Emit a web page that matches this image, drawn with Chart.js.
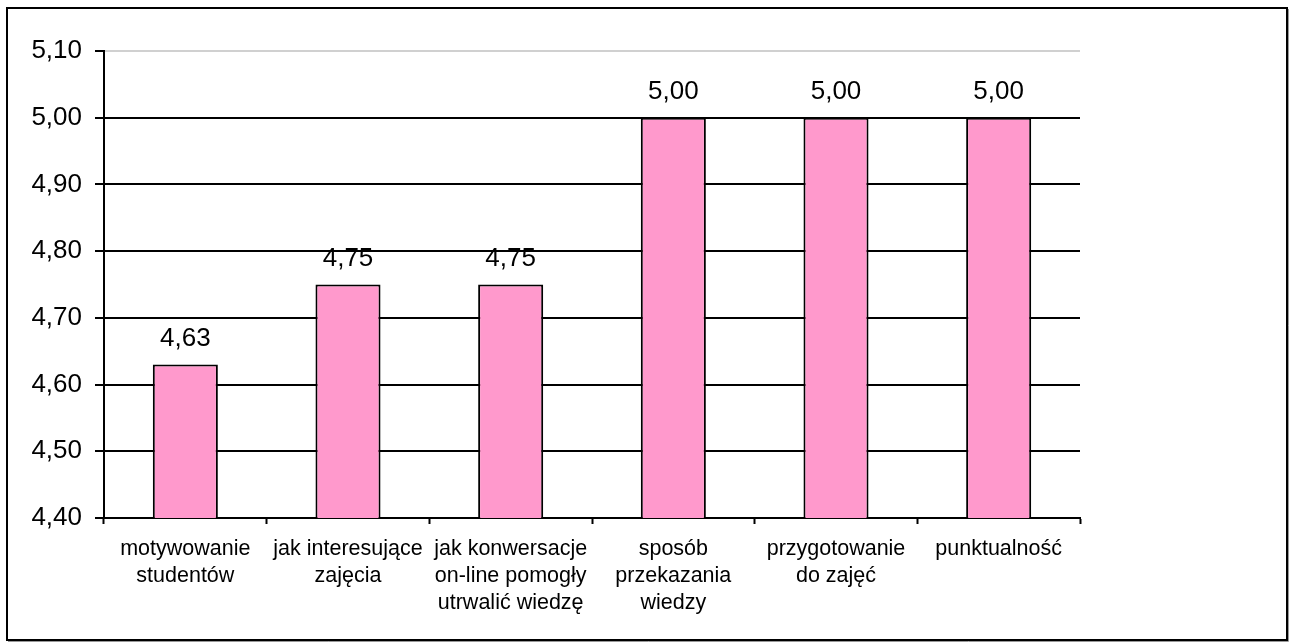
<!DOCTYPE html>
<html>
<head>
<meta charset="utf-8">
<script src="https://cdn.jsdelivr.net/npm/chart.js@4"></script>
<style>
  body { margin: 0; background: #fff; }
  #wrap { position: absolute; left: 0; top: 0; width: 1290px; height: 642px; }
</style>
</head>
<body>
<div id="wrap"><canvas id="ocenyChart" width="1290" height="642"></canvas></div>
<script>
// categories (multi-line labels as in the original sheet)
const categories = [
  ['motywowanie', 'studentów'],
  ['jak interesujące', 'zajęcia'],
  ['jak konwersacje', 'on-line pomogły', 'utrwalić wiedzę'],
  ['sposób', 'przekazania', 'wiedzy'],
  ['przygotowanie', 'do zajęć'],
  ['punktualność']
];
const scores = [4.63, 4.75, 4.75, 5.00, 5.00, 5.00];
const yMin = 4.4;
const yMax = 5.1;
const yStep = 0.1;

const fontFamily = '"Liberation Sans", Arial, Helvetica, sans-serif';
const fmt = v => v.toFixed(2).replace('.', ',');

// frame around the whole chart
const framePlugin = {
  id: 'frame',
  afterDraw(chart) {
    const ctx = chart.ctx;
    ctx.save();
    ctx.strokeStyle = '#999';
    ctx.lineWidth = 1;
    ctx.beginPath();
    ctx.moveTo(1288.5, 9);
    ctx.lineTo(1288.5, 641.5);
    ctx.lineTo(8, 641.5);
    ctx.stroke();
    ctx.strokeStyle = '#000';
    ctx.lineWidth = 2;
    ctx.strokeRect(7, 8, 1280, 632);
    ctx.restore();
  }
};

// value labels above bars
const valueLabels = {
  id: 'valueLabels',
  afterDatasetsDraw(chart) {
    const ctx = chart.ctx;
    const meta = chart.getDatasetMeta(0);
    ctx.save();
    ctx.font = '26px ' + fontFamily;
    ctx.fillStyle = '#000';
    ctx.textAlign = 'center';
    ctx.textBaseline = 'alphabetic';
    meta.data.forEach((bar, i) => {
      ctx.fillText(fmt(scores[i]), bar.x, bar.y - 19);
    });
    ctx.restore();
  }
};

const ctx = document.getElementById('ocenyChart').getContext('2d');
new Chart(ctx, {
  type: 'bar',
  data: {
    labels: categories,
    datasets: [{
      data: scores,
      backgroundColor: '#ff99cc',
      borderColor: '#000',
      borderWidth: 2,
      borderSkipped: 'start',
      categoryPercentage: 1.0,
      barPercentage: 0.4
    }]
  },
  options: {
    responsive: false,
    animation: false,
    devicePixelRatio: 1,
    layout: { padding: { left: 0, right: 210, top: 51, bottom: 0 } },
    plugins: {
      legend: { display: false },
      tooltip: { enabled: false }
    },
    scales: {
      x: {
        afterFit(scale) { scale.height = 124; },
        grid: {
          offset: true,
          drawOnChartArea: false,
          drawTicks: true,
          tickLength: 6,
          tickColor: '#000',
          tickWidth: 2
        },
        border: { color: '#000', width: 2 },
        ticks: {
          color: '#000',
          font: { family: fontFamily, size: 21.5, lineHeight: 1.24 },
          padding: 12,
          maxRotation: 0,
          autoSkip: false
        }
      },
      y: {
        min: yMin,
        max: yMax,
        afterFit(scale) { scale.width = 104; },
        grid: {
          color: c => (Math.abs(c.tick.value - yMax) < 1e-6 ? '#d0d0d0' : '#000'),
          lineWidth: 2,
          drawTicks: true,
          tickLength: 9,
          tickColor: '#000',
          tickWidth: 2
        },
        border: { color: '#000', width: 2 },
        ticks: {
          stepSize: yStep,
          color: '#000',
          font: { family: fontFamily, size: 26 },
          padding: 13,
          callback: v => fmt(v)
        }
      }
    }
  },
  plugins: [valueLabels, framePlugin]
});
</script>
</body>
</html>
